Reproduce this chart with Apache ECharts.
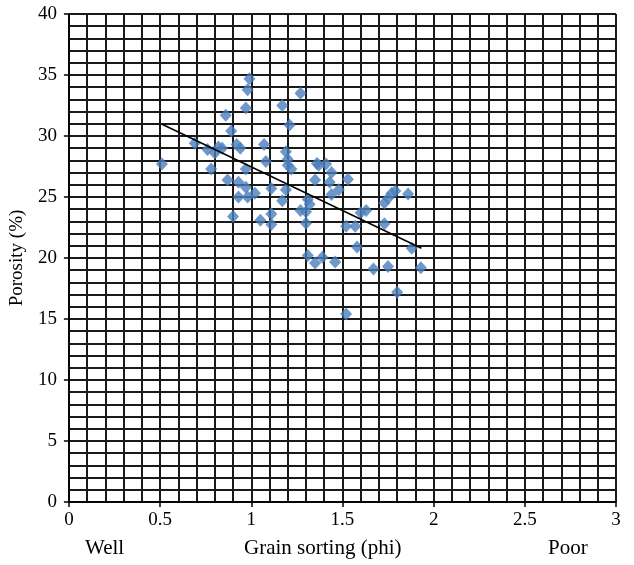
<!DOCTYPE html>
<html>
<head>
<meta charset="utf-8">
<script src="https://cdn.jsdelivr.net/npm/echarts@6/dist/echarts.min.js"></script>
<style>
html,body{margin:0;padding:0;background:#fff;}
#chart{width:634px;height:565px;}
</style>
</head>
<body>
<div id="chart"></div>
<script>
// Grain sorting (phi) values
var sortingX = [0.51,0.69,0.76,0.78,0.80,0.82,0.84,0.86,0.89,0.87,0.92,0.94,0.90,0.93,0.93,0.97,0.98,0.97,0.98,0.99,0.97,1.02,1.05,1.07,1.08,1.11,1.11,1.11,1.17,1.21,1.27,1.17,1.19,1.19,1.20,1.20,1.22,1.27,1.30,1.30,1.31,1.32,1.36,1.37,1.41,1.44,1.35,1.43,1.53,1.48,1.44,1.52,1.57,1.60,1.63,1.58,1.31,1.35,1.39,1.46,1.67,1.52,1.73,1.75,1.77,1.79,1.86,1.73,1.88,1.75,1.93,1.80];
// Porosity (%) values
var porosityY = [27.7,29.4,28.9,27.3,28.6,29.1,29.0,31.7,30.4,26.4,29.3,29.0,23.4,26.2,25.0,25.8,25.0,32.3,33.8,34.7,27.3,25.3,23.1,29.3,27.9,25.7,23.6,22.75,32.5,30.9,33.5,24.7,25.6,28.7,28.1,27.6,27.3,23.9,23.8,22.85,24.8,24.4,27.75,27.6,27.7,27.0,26.4,26.2,26.45,25.6,25.2,22.6,22.6,23.7,23.9,20.9,20.2,19.6,20.06,19.67,19.1,15.4,24.5,24.9,25.3,25.5,25.25,22.8,20.8,19.3,19.2,17.2];
// Linear trend line endpoints
var trendX = [0.508, 1.933];
var trendY = [30.98, 20.8];
// Side labels
var leftLabel = 'Well';
var rightLabel = 'Poor';
var xTitle = 'Grain sorting (phi)';
var yTitle = 'Porosity (%)';

var pts = sortingX.map(function(x,i){return [x, porosityY[i]];});
var trend = trendX.map(function(x,i){return [x, trendY[i]];});

var FONT = '"Liberation Serif", "DejaVu Serif", serif';
var gridLine = {show:true, lineStyle:{color:'#1a1a1a', width:2}};

var chart = echarts.init(document.getElementById('chart'), null, {renderer:'canvas'});
chart.setOption({
  animation:false,
  backgroundColor:'#fff',
  grid:{left:65, right:18, top:14, bottom:63, containLabel:false},
  xAxis:{
    type:'value', min:0, max:3, interval:0.5,
    axisLine:{show:true, onZero:false, lineStyle:{color:'#000', width:1.5}},
    axisTick:{show:true, length:5, lineStyle:{color:'#000', width:1.5}},
    axisLabel:{color:'#000', fontFamily:FONT, fontSize:19, margin:9},
    splitLine:gridLine,
    minorTick:{show:false, splitNumber:5},
    minorSplitLine:gridLine
  },
  yAxis:{
    type:'value', min:0, max:40, interval:5,
    name:yTitle, nameLocation:'middle', nameRotate:90, nameGap:40,
    nameTextStyle:{color:'#000', fontFamily:FONT, fontSize:19},
    axisLine:{show:true, onZero:false, lineStyle:{color:'#000', width:1.5}},
    axisTick:{show:true, length:5, lineStyle:{color:'#000', width:1.5}},
    axisLabel:{color:'#000', fontFamily:FONT, fontSize:19, margin:12},
    splitLine:gridLine,
    minorTick:{show:false, splitNumber:5},
    minorSplitLine:gridLine
  },
  series:[
    {
      type:'scatter', data:pts, symbol:'diamond', symbolSize:[12,13],
      itemStyle:{color:'#4a7ebb'}, z:3
    },
    {
      type:'line', data:trend, symbol:'none',
      lineStyle:{color:'#000', width:1.5}, z:4
    }
  ],
  graphic:[
    {type:'text', left:85, top:538, style:{text:leftLabel, fill:'#000', font:'21px ' + FONT}},
    {type:'text', left:548, top:538, style:{text:rightLabel, fill:'#000', font:'21px ' + FONT}},
    {type:'text', left:244, top:538, style:{text:xTitle, fill:'#000', font:'21px ' + FONT}}
  ]
});
</script>
</body>
</html>
